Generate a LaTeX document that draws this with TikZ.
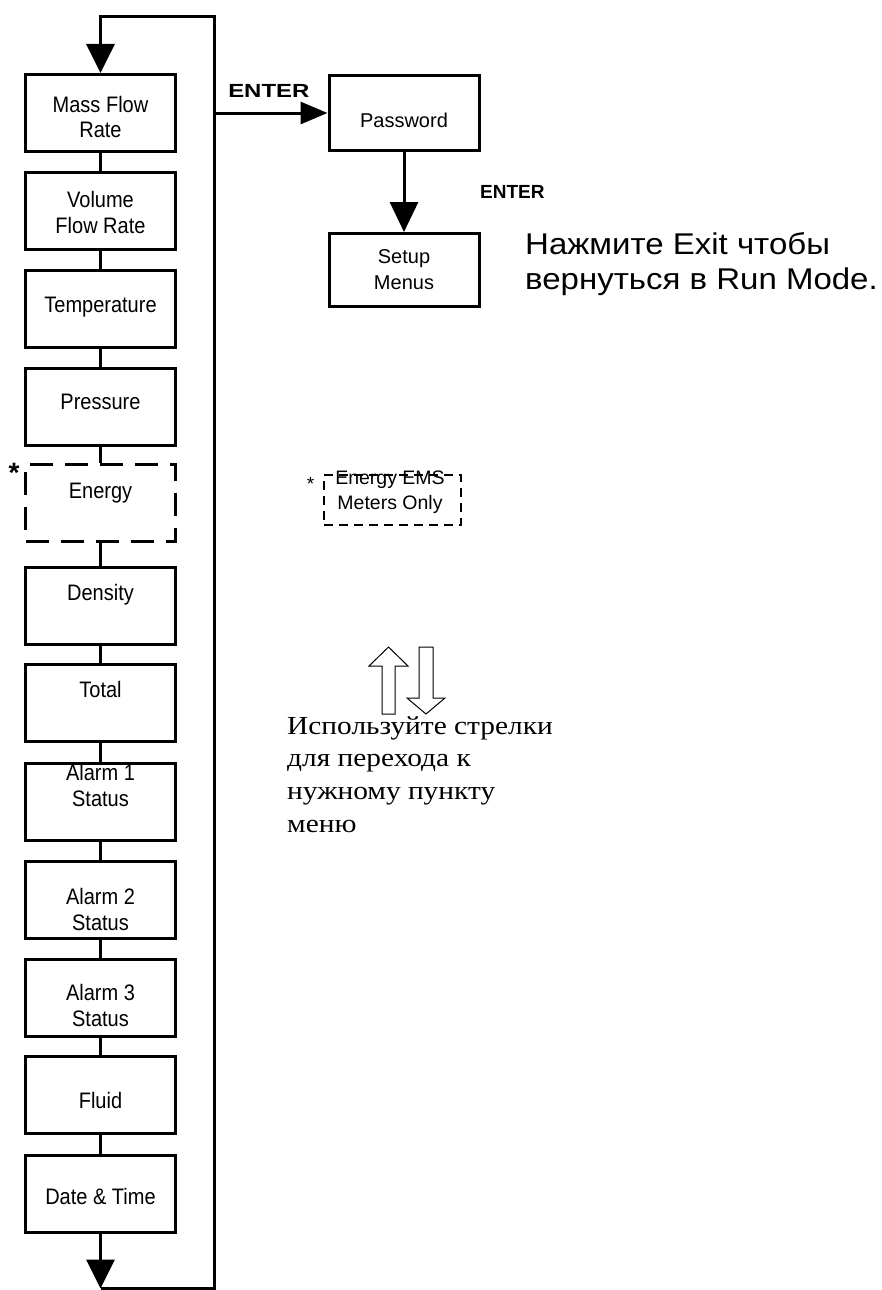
\documentclass[tikz,border=0pt]{standalone}
\usepackage{fontspec}
\setmainfont{Liberation Sans}
\newfontfamily\timesru{Liberation Serif}
\usetikzlibrary{arrows.meta}
\tikzset{
	box/.style={draw, line width=3pt, minimum width=150pt, minimum height=77pt, inner sep=0pt},
	optbox/.style={box, dash pattern=on 23pt off 12pt},
	lbl/.style={font=\fontsize{20}{26}\selectfont, align=center, inner sep=0pt},
	collbl/.style={lbl, font=\fontsize{20}{23.2}\selectfont, yscale=1.12},
	enter/.style={font=\bfseries\fontsize{19}{20}\selectfont, inner sep=0pt},
	link/.style={line width=3pt},
	tip/.style={line width=3pt, -{Triangle[length=29pt,width=28pt]}},
	hollow/.style={line width=1pt},
}
\begin{document}
\begin{tikzpicture}[x=1pt,y=-1pt]
			\useasboundingbox (0,0) rectangle (882,1290);
			\foreach \n/\y/\dy/\s/\t in {mass/113/-4/box/{Mass Flow\\Rate},volume/210.5/-2/box/{Volume\\Flow Rate},temp/309/2/box/Temperature,press/406.5/5/box/Pressure,energy/502.5/9/optbox/Energy,dens/605.5/11/box/Density,total/703/14/box/Total,alarmA/801.5/16/box/{Alarm 1\\Status},alarmB/899.5/-10/box/{Alarm 2\\Status},alarmC/997.5/-8/box/{Alarm 3\\Status},fluid/1095/-5/box/Fluid,datetime/1194/-2/box/{Date \& Time}}
			{
				\node[\s] (\n) at (100.5,\y) {};
				\node[collbl] at ([yshift=\dy pt]\n.center) {\t};
			}
			\foreach \a/\b in {mass/volume,volume/temp,temp/press,press/energy,energy/dens,dens/total,total/alarmA,alarmA/alarmB,alarmB/alarmC,alarmC/fluid,fluid/datetime}
				\draw[link] (\a) -- (\b);
			\path
			(100.5,16.5) coordinate (topl)
			(214.5,16.5) coordinate (topr)
			(100.5,1288.5) coordinate (botl)
			(214.5,1288.5) coordinate (botr)
			;
			\draw[tip] (datetime) -- (botl);
			\draw[tip] (botl) -- (botr) -- (topr) -- (topl) -- (mass);
			\node[box, minimum height=75pt] (pw) at (404,113) {};
			\node[lbl] at ([yshift=-7pt]pw.center) {Password};
			\node[box, minimum height=73pt] (setup) at (404,270) {};
			\node[lbl] at (setup) {Setup\\Menus};
			\draw[tip, -{Triangle[length=27pt,width=22pt]}] (pw.west -| topr) -- (pw);
			\draw[tip, -{Triangle[length=30pt,width=28pt]}] (pw) -- (setup);
			\node[enter, xscale=1.26, anchor=base west] (enterA) at (228,97) {ENTER};
			\node[enter, anchor=base west] (enterB) at (480,198) {ENTER};
			\node[anchor=north west, inner sep=0pt, font=\fontsize{30}{35}\selectfont, align=left, xscale=1.1] (exitnote) at (525,232) {Нажмите Exit чтобы\\вернуться в Run Mode.};
			\node[draw, line width=2pt, dash pattern=on 9pt off 6pt, minimum width=137pt, minimum height=50pt] (emsbox) at (392.5,500) {};
			\node[font=\fontsize{19.5}{25}\selectfont, align=center, inner sep=0pt] at (390,492.5) {Energy EMS\\Meters Only};
			\node[font=\fontsize{19}{19}\selectfont, inner sep=0pt] (emsstar) at (310.5,484) {*};
			\node[font=\bfseries\fontsize{28}{28}\selectfont, inner sep=0pt] (energystar) at (14,473) {*};
			\draw[hollow] (382,714) -- (382,666) -- (369,666) -- (388.5,647) -- (408,666) -- (395,666) -- (395,714) -- cycle;
			\draw[hollow] (419,647) -- (433,647) -- (433,698) -- (445,698) -- (426,714) -- (407,698) -- (419,698) -- cycle;
			\node[anchor=north west, inner sep=0pt, font=\timesru\fontsize{26}{32.7}\selectfont, align=left, xscale=1.13] (arrownote) at (287,716) {Используйте стрелки\\для перехода к\\нужному пункту\\меню};
		\end{tikzpicture}
\end{document}
